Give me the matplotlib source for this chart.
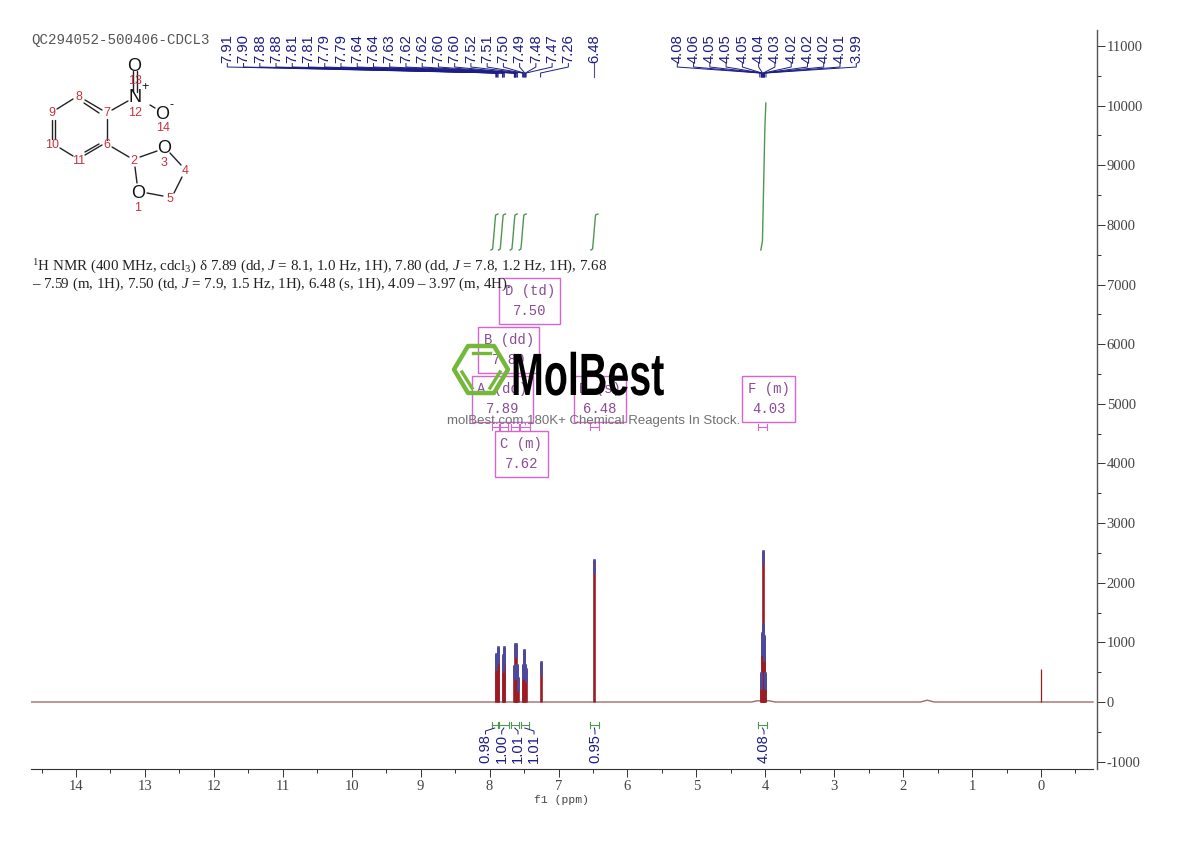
import matplotlib
matplotlib.use("Agg")
import matplotlib.pyplot as plt
from matplotlib.patches import Rectangle, Polygon
from matplotlib.patheffects import AbstractPathEffect
from matplotlib.transforms import Affine2D
from matplotlib.ticker import MultipleLocator

W, H = 1190, 841
plt.rcParams['font.family'] = ['Liberation Serif', 'DejaVu Serif']
plt.rcParams['mathtext.fontset'] = 'custom'
plt.rcParams['mathtext.rm'] = 'Liberation Serif'
plt.rcParams['mathtext.it'] = 'Liberation Serif:italic'
plt.rcParams['axes.unicode_minus'] = False

# ---------- data ----------
title = "QC294052-500406-CDCL3"
x_ticks = list(range(0, 15))
y_ticks = list(range(-1000, 12000, 1000))

# baseline of the spectrum with its small water hump
base_ppm = [14.65, 4.20, 4.12, 3.94, 3.86, 1.75, 1.65, 1.55, -0.754]
base_int = [0, 0, 20, 20, 0, 0, 30, 0, 0]

# labelled lines of the spectrum
peak_ppm = [7.91, 7.90, 7.885, 7.88, 7.81, 7.805, 7.79, 7.785,
            7.64, 7.635, 7.625, 7.62, 7.605, 7.60, 7.595,
            7.52, 7.51, 7.50, 7.495, 7.48, 7.47, 7.26, 6.48,
            4.065, 4.06, 4.05, 4.045, 4.04, 4.035, 4.03, 4.025, 4.02, 4.015, 4.005, 4.0]
peak_int = [800, 760, 930, 880, 780, 720, 930, 860,
            600, 620, 980, 970, 620, 600, 400,
            600, 620, 870, 860, 620, 560, 670, 2380,
            440, 480, 1000, 1150, 1200, 2530, 1300, 1100, 1000, 900, 480, 440]
tms_ppm = [0.0]
tms_int = [550]

peak_labels_a = ["7.91", "7.90", "7.88", "7.88", "7.81", "7.81", "7.79", "7.79", "7.64", "7.64", "7.63",
                 "7.62", "7.62", "7.60", "7.60", "7.52", "7.51", "7.50", "7.49", "7.48", "7.47", "7.26"]
peak_labels_b = ["4.08", "4.06", "4.05", "4.05", "4.05", "4.04", "4.03", "4.02", "4.02", "4.02", "4.01", "3.99"]
peak_single = "6.48"

integ_ppm = [(7.97, 7.88), (7.865, 7.72), (7.69, 7.58), (7.55, 7.43), (6.55, 6.41), (4.11, 3.97)]
integ_val = ["0.98", "1.00", "1.01", "1.01", "0.95", "4.08"]

curve_ppm = [7.93, 7.82, 7.65, 7.52, 6.48, 4.03]
curve_top = [214, 214, 214, 214, 214, 103]

mult_names = ["D (td)", "B (dd)", "A (dd)", "E (s)", "F (m)", "C (m)"]
mult_ppm = ["7.50", "7.80", "7.89", "6.48", "4.03", "7.62"]
mult_ranges = [(7.97, 7.86), (7.85, 7.74), (7.69, 7.58), (7.56, 7.42), (6.55, 6.41), (4.11, 3.97)]

nmr_line1 = r"$^{1}$H NMR (400 MHz, cdcl$_{3}$) δ 7.89 (dd, $J$ = 8.1, 1.0 Hz, 1H), 7.80 (dd, $J$ = 7.8, 1.2 Hz, 1H), 7.68"
nmr_line2 = r"– 7.59 (m, 1H), 7.50 (td, $J$ = 7.9, 1.5 Hz, 1H), 6.48 (s, 1H), 4.09 – 3.97 (m, 4H)."

# ---------- colours ----------
SPEC = "#9c1c24"
BASE = "#a46a6a"
BLUE = "#1c1c86"
TIP = "#4a4a9e"
GREEN = "#4f9650"
PINK = "#d764d0"
PURP = "#8a4a96"
RED = "#c8323c"

fig = plt.figure(figsize=(W / 100, H / 100), dpi=100)
AX_L, AX_R, AX_T, AX_B = 31, 1097, 30, 769
ax = fig.add_axes([AX_L / W, 1 - AX_B / H, (AX_R - AX_L) / W, (AX_B - AX_T) / H])
ax.set_xlim(14.653, -0.812)
ax.set_ylim((702 - AX_B) / 0.05964, (702 - AX_T) / 0.05964)
for s in ("top", "left"):
    ax.spines[s].set_visible(False)
ax.spines["right"].set_linewidth(1.0)
ax.spines["right"].set_color("#555555")
ax.spines["bottom"].set_linewidth(0.8)
ax.spines["bottom"].set_color("#333333")
ax.spines["bottom"].set_bounds(14.653, -0.754)
ax.yaxis.tick_right()
ax.set_xticks(x_ticks)
ax.set_yticks(y_ticks)
ax.xaxis.set_minor_locator(MultipleLocator(0.5))
ax.yaxis.set_minor_locator(MultipleLocator(500))
ax.tick_params(axis="both", which="major", length=6, width=0.7, color="#333333",
               labelsize=10.5, labelcolor="#444444")
ax.tick_params(axis="y", which="major", pad=1)
ax.tick_params(axis="x", which="major", pad=2)
ax.tick_params(axis="both", which="minor", length=3, width=0.7, color="#333333")
ax.patch.set_alpha(0)
ax.plot(base_ppm, base_int, color=BASE, lw=1.0, zorder=2)
ax.vlines(peak_ppm, 0, peak_int, color=SPEC, lw=1.9, zorder=3)
ax.vlines(tms_ppm, 0, tms_int, color=SPEC, lw=0.9, zorder=3)

# overlay in pixel units for page furniture
ov = fig.add_axes([0, 0, 1, 1])
ov.set_xlim(0, W)
ov.set_ylim(H, 0)
ov.axis("off")
ov.patch.set_alpha(0)


def d2p(ppm, val=0):
    xy = ax.transData.transform((ppm, val))
    return xy[0] * W / fig.bbox.width, H - xy[1] * H / fig.bbox.height


ov.text(31, 40, title, family="Liberation Mono", fontsize=10.2, color="#555555", va="center", ha="left")
ov.text(561, 800, "f1 (ppm)", family="Liberation Mono", fontsize=8.2, color="#444444", ha="center", va="center")

# ---- peak picking labels & connectors ----
ps_a = [float(v) for v in peak_labels_a]
ps_b = [float(v) for v in peak_labels_b]


def peak_group(labels, vals, x0, dx):
    for i, (lab, v) in enumerate(zip(labels, vals)):
        x = x0 + i * dx
        ov.text(x, 48.5, lab, rotation=90, family="Liberation Sans", fontsize=10.6, color=BLUE,
                ha="center", va="center")
        tx = d2p(v)[0]
        ov.plot([x, x, tx, tx], [63.5, 67, 73, 77], color=BLUE, lw=0.7, zorder=4)


peak_group(peak_labels_a, ps_a, 227.3, 16.24)
peak_group(peak_labels_b, ps_b, 677.3, 16.27)
ov.text(594.5, 48.5, peak_single, rotation=90, family="Liberation Sans", fontsize=10.6, color=BLUE,
        ha="center", va="center")
ov.plot([d2p(6.48)[0]] * 2, [63, 77], color="#50508e", lw=0.8)

# small blue tips on top of peaks
for v, h in zip(peak_ppm, peak_int):
    tip = d2p(v, h)
    ov.plot([tip[0], tip[0]], [tip[1], tip[1] + 12], color=TIP, lw=1.9, zorder=5)

# ---- integrals ----
for (a, b), val in zip(integ_ppm, integ_val):
    xa, xb = d2p(a)[0], d2p(b)[0]
    ov.plot([xa, xb], [724.5, 724.5], color=GREEN, lw=0.8)
    ov.plot([xa, xa], [721.5, 727.5], color=GREEN, lw=0.8)
    ov.plot([xb, xb], [721.5, 727.5], color=GREEN, lw=0.8)

for p, top in zip(curve_ppm, curve_top):
    xm = d2p(p)[0]
    base = 250
    if top > 200:
        xs = [xm - 3.5, xm - 1.8, xm - 1.3, xm + 0.8, xm + 1.2, xm + 3.5]
        ys = [base, base - 1, base - 6, top + 5, top + 1, top]
    else:
        xs = [xm - 2.4, xm - 0.8, xm + 1.6, xm + 2.6]
        ys = [base, base - 9, top + 26, top]
    ov.plot(xs, ys, color=GREEN, lw=1.0)

lab_x = [485.5, 501.7, 518, 534, 595, 764]
for x, lab, (a, b) in zip(lab_x, integ_val, integ_ppm):
    ov.text(x, 748.5, lab, rotation=90, family="Liberation Sans", fontsize=10.6, color=BLUE, ha="center", va="center")
    xm = (d2p(a)[0] + d2p(b)[0]) / 2
    ov.plot([xm, x, x], [728, 731, 734], color=BLUE, lw=0.7)

# ---- multiplet boxes ----
boxes = [(499.3, 278, 61, 46.3), (478, 326.7, 61.3, 46.6), (471.7, 375.7, 61.3, 46.6),
         (573.7, 375.7, 52.3, 46.6), (742.3, 375.7, 52.7, 46.6), (494.7, 430.7, 53, 46.6)]
for (x, y, w, h), n, p in zip(boxes, mult_names, mult_ppm):
    ov.add_patch(Rectangle((x, y), w, h, fill=False, ec=PINK, lw=1.0, zorder=6))
    ov.text(x + w / 2, y + 13, n, family="Liberation Mono", fontsize=10.0, color=PURP, ha="center", va="center", zorder=6)
    ov.text(x + w / 2, y + 33, p, family="Liberation Mono", fontsize=10.0, color=PURP, ha="center", va="center", zorder=6)

for a, b in mult_ranges:
    xa, xb = d2p(a)[0], d2p(b)[0]
    ov.plot([xa, xb], [427, 427], color=PINK, lw=0.8, zorder=6)
    ov.plot([xa, xa], [424, 430], color=PINK, lw=0.8, zorder=6)
    ov.plot([xb, xb], [424, 430], color=PINK, lw=0.8, zorder=6)

# ---- NMR text ----
ov.text(32, 267, nmr_line1, fontsize=10.8, color="#222222", ha="left", va="center")
ov.text(32, 284, nmr_line2, fontsize=10.8, color="#222222", ha="left", va="center", zorder=7)

# ---- molecule ----
bonds = [((73, 99), (57, 109)), ((52, 120), (52, 139)), ((55, 120), (55, 139)), ((60, 148), (73, 156)),
         ((85, 155), (102, 145)), ((85, 152), (99, 144)), ((107, 140), (107, 119)), ((102, 110), (85, 100)),
         ((99, 113), (84, 103)), ((112, 110), (128, 101)), ((133, 71), (133, 92)), ((137, 71), (137, 92)),
         ((150, 105), (155, 108)), ((112, 147), (129, 157)), ((140, 157), (157, 151)), ((135, 167), (137, 183)),
         ((170, 153), (181, 165)), ((182, 177), (174, 193)), ((147, 193), (163, 196))]
for (x1, y1), (x2, y2) in bonds:
    ov.plot([x1, x2], [y1, y2], color="#222222", lw=1.0, solid_capstyle="round")

atoms = [("O", 134, 66), ("N", 135, 97), ("O", 162, 114), ("O", 164, 148), ("O", 138, 193)]
for s, x, y in atoms:
    ov.text(x, y, s, family="Liberation Sans", fontsize=13, color="#111111", ha="center", va="center")
ov.text(145, 87, "+", family="Liberation Sans", fontsize=9, color="#111111", ha="center", va="center")
ov.text(171, 105, "-", family="Liberation Sans", fontsize=9, color="#111111", ha="center", va="center")
numbers = [("13", 135, 81), ("12", 135, 113), ("14", 163, 128), ("3", 164, 163), ("4", 185, 171), ("5", 170, 199),
           ("1", 138, 208), ("2", 134, 161), ("6", 107, 145), ("7", 107, 113), ("8", 79, 97), ("9", 52, 113),
           ("10", 52, 145), ("11", 79, 161)]
for s, x, y in numbers:
    ov.text(x, y, s, family="Liberation Sans", fontsize=9, color=RED, ha="center", va="center")


# ---- watermark ----
class SqueezeX(AbstractPathEffect):
    def __init__(self, factor):
        super().__init__()
        self.factor = factor

    def draw_path(self, renderer, gc, tpath, affine, rgbFace):
        x0 = affine.get_matrix()[0, 2]
        t = affine + Affine2D().translate(-x0, 0).scale(self.factor, 1).translate(x0, 0)
        renderer.draw_path(gc, tpath, t, rgbFace)


wm = ov.text(511, 395, "MolBest", family="Liberation Sans", fontweight="bold", fontsize=43, color="black",
             ha="left", va="baseline", zorder=8)
wm.set_path_effects([SqueezeX(0.66)])
ov.text(594, 421, "molBest.com,180K+ Chemical Reagents In Stock.", family="Liberation Sans", fontsize=9.5,
        color="#707070", ha="center", va="center", zorder=8)

hexa = [(454, 369.5), (468, 346), (494, 346), (508, 369.5), (494, 393), (468, 393)]
ov.add_patch(Polygon(hexa, closed=True, fill=False, ec="#74b83a", lw=3.2, joinstyle="round", zorder=8))
for (x1, y1), (x2, y2) in [((473, 353), (490, 353)), ((462, 372), (472, 388)), ((490, 388), (500, 372))]:
    ov.plot([x1, x2], [y1, y2], color="#74b83a", lw=2.4, zorder=8)

fig.savefig("out.png", dpi=100)
